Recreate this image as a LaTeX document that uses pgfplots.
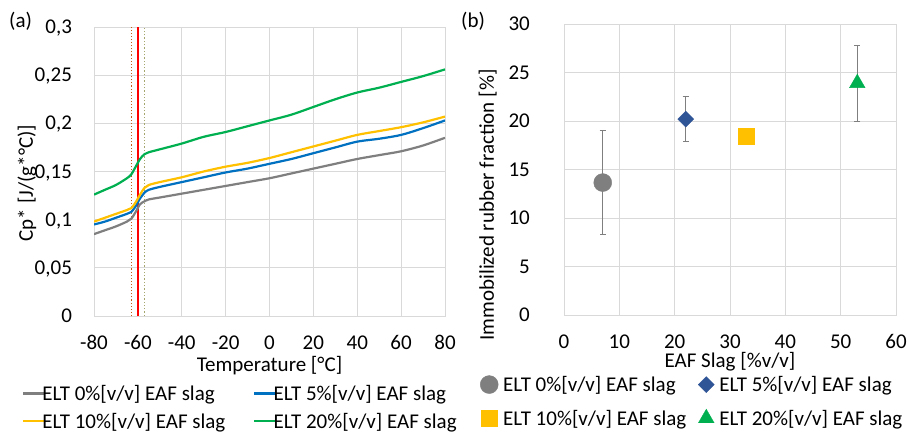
\documentclass[border=0pt]{standalone}
\usepackage{fontspec}
\setmainfont{Carlito}
\usepackage{pgfplots}
\pgfplotsset{compat=1.18}
\definecolor{cgray}{HTML}{7F7F7F}
\definecolor{cblue}{HTML}{0070C0}
\definecolor{cyel}{HTML}{FFC000}
\definecolor{cgreen}{HTML}{00B050}
\definecolor{cdia}{HTML}{2F5597}
\definecolor{cgrid}{HTML}{D9D9D9}
\definecolor{cdotA}{HTML}{C55A11}
\definecolor{cdotB}{HTML}{A5A56E}
\newcommand{\fs}{\fontsize{21}{25}\selectfont}
\pgfplotsset{excel/.style={
  scale only axis,
  axis line style={draw=cgrid, line width=0.8pt},
  grid=major, major grid style={draw=cgrid, line width=0.8pt},
  major tick length=0pt,
  tick label style={font=\fs},
  label style={font=\fs},
  /pgf/number format/assume math mode=true,
  xticklabel style={anchor=base, inner sep=0pt, yshift=-33pt},
  legend style={draw=none, fill=none, font=\fs, legend cell align=left},
}}
\begin{document}
\begin{tikzpicture}
\useasboundingbox (0,0) rectangle (907pt,434pt);
% ---------------- (a)
\begin{axis}[excel,
  at={(94pt,118pt)}, anchor=south west,
  width=351pt, height=289pt,
  xmin=-80, xmax=80, ymin=0, ymax=0.3,
  xtick={-80,-60,-40,-20,0,20,40,60,80},
  ytick={0,0.05,0.1,0.15,0.2,0.25,0.3},
  yticklabel style={anchor=base east, inner sep=0pt, xshift=-21pt, yshift=-6.6pt,
    /pgf/number format/.cd, fixed, use comma, precision=2},
  xlabel={Temperature [°C]},
  xlabel style={at={(axis description cs:0.5,0)}, anchor=base, yshift=-55pt},
  ylabel={Cp* [J/(g*°C)]},
  ylabel style={at={(axis description cs:-0.174,0.46)}, anchor=base},
  legend columns=2,
  legend style={at={(axis description cs:-0.2165,-0.222)}, anchor=north west,
    nodes={inner sep=2pt}, row sep=7pt,
    /tikz/every odd column/.append style={column sep=-6pt},
    /tikz/every even column/.append style={column sep=26pt}},
  legend image code/.code={\draw[#1, line width=2.2pt] (0pt,0pt) -- (22pt,0pt);},
  line width=2.2pt,
]
\addplot[cdotA, dotted, line width=1.1pt, forget plot] coordinates {(-63,0) (-63,0.3)};
\addplot[cdotB, dotted, line width=1.3pt, forget plot] coordinates {(-57,0) (-57,0.3)};
\addplot[red, line width=1.6pt, forget plot] coordinates {(-60,0) (-60,0.3)};
\addplot[cgray, smooth] coordinates {
(-80,0.085) (-75,0.089) (-70,0.093) (-65,0.098) (-63,0.101) (-61,0.108) (-59,0.116) (-57,0.119) (-55,0.121) (-50,0.123) (-40,0.127) (-30,0.131) (-20,0.135) (-10,0.139) (0,0.143) (10,0.148) (20,0.153) (30,0.158) (40,0.163) (50,0.167) (60,0.171) (70,0.177) (80,0.185)};
\addlegendentry{ELT 0\%[v/v] EAF slag}
\addplot[cblue, smooth] coordinates {
(-80,0.095) (-75,0.098) (-70,0.102) (-65,0.106) (-63,0.108) (-61,0.114) (-59,0.122) (-57,0.128) (-55,0.131) (-50,0.134) (-40,0.139) (-30,0.144) (-20,0.149) (-10,0.153) (0,0.158) (10,0.163) (20,0.169) (30,0.175) (40,0.181) (50,0.184) (60,0.188) (70,0.195) (80,0.203)};
\addlegendentry{ELT 5\%[v/v] EAF slag}
\addplot[cyel, smooth] coordinates {
(-80,0.098) (-75,0.102) (-70,0.106) (-65,0.110) (-63,0.112) (-61,0.118) (-59,0.126) (-57,0.133) (-55,0.136) (-50,0.139) (-40,0.144) (-30,0.150) (-20,0.155) (-10,0.159) (0,0.164) (10,0.170) (20,0.176) (30,0.182) (40,0.188) (50,0.192) (60,0.196) (70,0.201) (80,0.207)};
\addlegendentry{ELT 10\%[v/v] EAF slag}
\addplot[cgreen, smooth] coordinates {
(-80,0.126) (-75,0.131) (-70,0.136) (-65,0.143) (-63,0.147) (-61,0.155) (-59,0.163) (-57,0.168) (-55,0.170) (-50,0.173) (-40,0.179) (-30,0.186) (-20,0.191) (-10,0.197) (0,0.203) (10,0.209) (20,0.217) (30,0.225) (40,0.232) (50,0.237) (60,0.243) (70,0.249) (80,0.256)};
\addlegendentry{ELT 20\%[v/v] EAF slag}
\end{axis}
% ---------------- (b)
\begin{axis}[excel,
  at={(564pt,119pt)}, anchor=south west,
  width=332pt, height=291pt,
  xmin=0, xmax=60, ymin=0, ymax=30,
  xtick={0,10,20,30,40,50,60},
  ytick={0,5,10,15,20,25,30},
  yticklabel style={anchor=base east, inner sep=0pt, xshift=-34pt, yshift=-6.6pt},
  xlabel={EAF Slag [\%v/v]},
  xlabel style={at={(axis description cs:0.5,0)}, anchor=base, yshift=-52pt},
  ylabel={Immobilized rubber fraction [\%]},
  ylabel style={at={(axis description cs:-0.211,0.378)}, anchor=base},
  legend columns=2,
  legend style={at={(axis description cs:-0.262,-0.196)}, anchor=north west,
    nodes={inner sep=2pt}, row sep=13pt,
    /tikz/every odd column/.append style={column sep=3pt},
    /tikz/every even column/.append style={column sep=10pt}},
  error bars/y dir=both, error bars/y explicit,
  error bars/error bar style={cgray, line width=0.9pt},
  error bars/error mark options={rotate=90, mark size=3pt, cgray, line width=0.9pt},
]
\addplot[only marks, mark=*, mark size=9pt, color=cgray] coordinates {(7,13.65) +- (0,5.35)};
\addlegendentry{ELT 0\%[v/v] EAF slag}
\addplot[only marks, mark=diamond*, mark size=8pt, mark options={xscale=1.33}, color=cdia] coordinates {(22,20.2) +- (0,2.3)};
\addlegendentry{ELT 5\%[v/v] EAF slag}
\addplot[only marks, mark=square*, mark size=8pt, color=cyel] coordinates {(33,18.4) +- (0,0)};
\addlegendentry{ELT 10\%[v/v] EAF slag}
\addplot[only marks, mark=triangle*, mark size=9pt, color=cgreen] coordinates {(53,23.9) +- (0,3.9)};
\addlegendentry{ELT 20\%[v/v] EAF slag}
\end{axis}
\node[font=\fs, anchor=base west, inner sep=0pt] at (9pt,406pt) {(a)};
\node[font=\fs, anchor=base west, inner sep=0pt] at (461pt,406pt) {(b)};
\end{tikzpicture}
\end{document}
